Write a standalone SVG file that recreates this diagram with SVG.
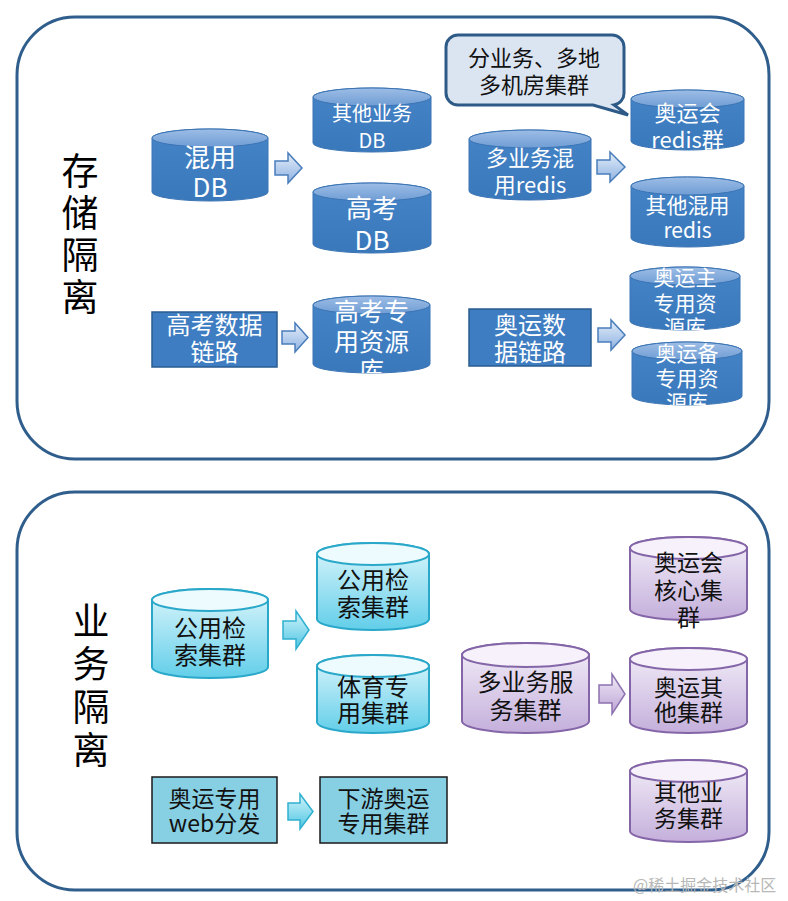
<svg xmlns="http://www.w3.org/2000/svg" width="788" height="901" viewBox="0 0 788 901">
<defs>
<linearGradient id="gBody" x1="0" y1="0" x2="0" y2="1"><stop offset="0" stop-color="#4684C8"/><stop offset="1" stop-color="#3A78BC"/></linearGradient>
<linearGradient id="gTop" x1="0" y1="0" x2="0" y2="1"><stop offset="0" stop-color="#9DBDE6"/><stop offset="1" stop-color="#6F9DD4"/></linearGradient>
<linearGradient id="gCyan" x1="0" y1="0" x2="0" y2="1"><stop offset="0" stop-color="#DDF6FC"/><stop offset="1" stop-color="#62CEE9"/></linearGradient>
<linearGradient id="gPurple" x1="0" y1="0" x2="0" y2="1"><stop offset="0" stop-color="#F4EFF9"/><stop offset="1" stop-color="#C4AFDB"/></linearGradient>
<linearGradient id="gArB" x1="0" y1="0" x2="0" y2="1"><stop offset="0" stop-color="#E3EDF9"/><stop offset="1" stop-color="#8EB2E2"/></linearGradient>
<linearGradient id="gArC" x1="0" y1="0" x2="0" y2="1"><stop offset="0" stop-color="#D2F4FB"/><stop offset="1" stop-color="#4EC5E3"/></linearGradient>
<linearGradient id="gArP" x1="0" y1="0" x2="0" y2="1"><stop offset="0" stop-color="#F1EAF7"/><stop offset="1" stop-color="#BBA3D5"/></linearGradient>
<clipPath id="c7"><rect x="313" y="296" width="117" height="77"/></clipPath>
<clipPath id="c8"><rect x="630" y="267" width="110" height="63"/></clipPath>
<clipPath id="c9"><rect x="632" y="342" width="110" height="63"/></clipPath>
</defs>
<style>
text{font-family:"Noto Sans CJK SC","Liberation Sans",sans-serif;text-anchor:middle}
.panel{fill:#fff;stroke:#2F5E8C;stroke-width:3}
.bb{fill:url(#gBody);stroke:#3B74B4;stroke-width:1}
.bt{fill:url(#gTop);stroke:#3B74B4;stroke-width:1}
.cb{fill:url(#gCyan);stroke:#2AA8CA;stroke-width:2}
.ct{fill:#EEFBFE;stroke:#2AA8CA;stroke-width:2}
.pb{fill:url(#gPurple);stroke:#8466A8;stroke-width:2}
.pt{fill:#F6F1FA;stroke:#8466A8;stroke-width:2}
.rb{fill:#3E7DC2;stroke:#2A5C90;stroke-width:1.5}
.rc{fill:#87CFE3;stroke:#1A1A1A;stroke-width:1.5}
.w{fill:#fff}
.k{fill:#111}
.title{font-size:37px;fill:#000}
.arB{fill:url(#gArB);stroke:#4A7EBB;stroke-width:1.5}
.arC{fill:url(#gArC);stroke:#2FB0D0;stroke-width:1.5}
.arP{fill:url(#gArP);stroke:#8C72AF;stroke-width:1.5}
</style>
<rect class="panel" x="17" y="17" width="752" height="442" rx="58"/>
<rect class="panel" x="17" y="492" width="752" height="398" rx="58"/>
<g id="title-storage" class="title"><text x="80" y="185">存</text><text x="80" y="227">储</text><text x="80" y="269">隔</text><text x="80" y="311">离</text></g>
<g id="title-business" class="title"><text x="91" y="635">业</text><text x="91" y="678">务</text><text x="91" y="721">隔</text><text x="91" y="764">离</text></g>
<g id="connectors">
<path class="arB" d="M275,161 H288 V153 L302,168 L288,183 V175 H275 Z"/>
<path class="arB" d="M282,331 H295 V323 L308,337.5 L295,352 V344 H282 Z"/>
<path class="arB" d="M597,160 H610 V152 L625,167 L610,182 V174 H597 Z"/>
<path class="arB" d="M598,328 H611 V320 L625,335 L611,350 V342 H598 Z"/>
<path class="arC" d="M283,621 H296 V611 L309,630 L296,649 V639 H283 Z"/>
<path class="arC" d="M288,803 H300 V794 L313,811.5 L300,829 V820 H288 Z"/>
<path class="arP" d="M599,685 H612 V674 L625,694 L612,714 V703 H599 Z"/>
</g>
<g id="n-mixdb"><path class="bb" d="M152,138 A58,9 0 0 1 268,138 V192 A58,9 0 0 1 152,192 Z"/><ellipse class="bt" cx="210" cy="138" rx="58" ry="9"/><text class="w" x="210" y="167" font-size="26">混用</text><text class="w" x="210" y="197" font-size="26">DB</text></g>
<g id="n-otherdb"><path class="bb" d="M313,97 A59,9 0 0 1 431,97 V143 A59,9 0 0 1 313,143 Z"/><ellipse class="bt" cx="372" cy="97" rx="59" ry="9"/><text class="w" x="372" y="121" font-size="20">其他业务</text><text class="w" x="372" y="148" font-size="20">DB</text></g>
<g id="n-gkdb"><path class="bb" d="M313,192 A59,9 0 0 1 431,192 V244 A59,9 0 0 1 313,244 Z"/><ellipse class="bt" cx="372" cy="192" rx="59" ry="9"/><text class="w" x="372" y="218" font-size="26">高考</text><text class="w" x="372" y="250" font-size="26">DB</text></g>
<g id="n-mixredis"><path class="bb" d="M469,139 A61,9 0 0 1 591,139 V191 A61,9 0 0 1 469,191 Z"/><ellipse class="bt" cx="530" cy="139" rx="61" ry="9"/><text class="w" x="530" y="166" font-size="22">多业务混</text><text class="w" x="530" y="193" font-size="22">用redis</text></g>
<g id="n-aoredis"><path class="bb" d="M631,99 A56.5,9 0 0 1 744,99 V141 A56.5,9 0 0 1 631,141 Z"/><ellipse class="bt" cx="687.5" cy="99" rx="56.5" ry="9"/><text class="w" x="687.5" y="121" font-size="22">奥运会</text><text class="w" x="687.5" y="148" font-size="22">redis群</text></g>
<g id="n-otherredis"><path class="bb" d="M631,186 A56.5,9 0 0 1 744,186 V238 A56.5,9 0 0 1 631,238 Z"/><ellipse class="bt" cx="687.5" cy="186" rx="56.5" ry="9"/><text class="w" x="687.5" y="213" font-size="21">其他混用</text><text class="w" x="687.5" y="238" font-size="21">redis</text></g>
<g id="n-callout"><path d="M458,35 H612 A12,12 0 0 1 624,47 V93 A12,12 0 0 1 614,105 L628,115 L593,105 H458 A12,12 0 0 1 446,93 V47 A12,12 0 0 1 458,35 Z" fill="#DBE5F1" stroke="#2E5A87" stroke-width="3"/><text class="k" x="534" y="66" font-size="22">分业务、多地</text><text class="k" x="534" y="93" font-size="22">多机房集群</text></g>
<g id="n-gklink"><rect class="rb" x="152" y="312" width="125" height="55"/><text class="w" x="214.5" y="334" font-size="24">高考数据</text><text class="w" x="214.5" y="361" font-size="24">链路</text></g>
<g id="n-gkres"><path class="bb" d="M313,305 A58.5,9 0 0 1 430,305 V364 A58.5,9 0 0 1 313,364 Z"/><ellipse class="bt" cx="371.5" cy="305" rx="58.5" ry="9"/><g clip-path="url(#c7)"><text class="w" x="371.5" y="321" font-size="25">高考专</text><text class="w" x="371.5" y="351" font-size="25">用资源</text><text class="w" x="371.5" y="380" font-size="25">库</text></g></g>
<g id="n-aolink"><rect class="rb" x="469" y="309" width="122" height="57"/><text class="w" x="530" y="334" font-size="24">奥运数</text><text class="w" x="530" y="361" font-size="24">据链路</text></g>
<g id="n-aomain"><path class="bb" d="M630,276 A55,9 0 0 1 740,276 V321 A55,9 0 0 1 630,321 Z"/><ellipse class="bt" cx="685" cy="276" rx="55" ry="9"/><g clip-path="url(#c8)"><text class="w" x="685" y="285" font-size="21">奥运主</text><text class="w" x="685" y="311" font-size="21">专用资</text><text class="w" x="685" y="335" font-size="21">源库</text></g></g>
<g id="n-aobak"><path class="bb" d="M632,351 A55,9 0 0 1 742,351 V396 A55,9 0 0 1 632,396 Z"/><ellipse class="bt" cx="687" cy="351" rx="55" ry="9"/><g clip-path="url(#c9)"><text class="w" x="687" y="361" font-size="21">奥运备</text><text class="w" x="687" y="386" font-size="21">专用资</text><text class="w" x="687" y="410" font-size="21">源库</text></g></g>
<g id="n-search-l"><path class="cb" d="M152,600 A58,11 0 0 1 268,600 V667 A58,11 0 0 1 152,667 Z"/><ellipse class="ct" cx="210" cy="600" rx="58" ry="11"/><text class="k" x="210" y="637" font-size="24">公用检</text><text class="k" x="210" y="664" font-size="24">索集群</text></g>
<g id="n-search-r"><path class="cb" d="M317,554 A56,11 0 0 1 429,554 V619 A56,11 0 0 1 317,619 Z"/><ellipse class="ct" cx="373" cy="554" rx="56" ry="11"/><text class="k" x="373" y="589" font-size="24">公用检</text><text class="k" x="373" y="616" font-size="24">索集群</text></g>
<g id="n-sports"><path class="cb" d="M317,666 A56,11 0 0 1 429,666 V722 A56,11 0 0 1 317,722 Z"/><ellipse class="ct" cx="373" cy="666" rx="56" ry="11"/><text class="k" x="373" y="696" font-size="24">体育专</text><text class="k" x="373" y="722" font-size="24">用集群</text></g>
<g id="n-web"><rect class="rc" x="152" y="777" width="125" height="66"/><text class="k" x="214.5" y="807" font-size="23">奥运专用</text><text class="k" x="214.5" y="832" font-size="23">web分发</text></g>
<g id="n-down"><rect class="rc" x="320" y="777" width="127" height="66"/><text class="k" x="383.5" y="807" font-size="23">下游奥运</text><text class="k" x="383.5" y="832" font-size="23">专用集群</text></g>
<g id="n-multisvc"><path class="pb" d="M462,655 A63.5,12 0 0 1 589,655 V721 A63.5,12 0 0 1 462,721 Z"/><ellipse class="pt" cx="525.5" cy="655" rx="63.5" ry="12"/><text class="k" x="525.5" y="691" font-size="24">多业务服</text><text class="k" x="525.5" y="719" font-size="24">务集群</text></g>
<g id="n-aocore"><path class="pb" d="M630,548 A58.5,11 0 0 1 747,548 V609 A58.5,11 0 0 1 630,609 Z"/><ellipse class="pt" cx="688.5" cy="548" rx="58.5" ry="11"/><text class="k" x="688.5" y="571" font-size="23">奥运会</text><text class="k" x="688.5" y="599" font-size="23">核心集</text><text class="k" x="688.5" y="626" font-size="23">群</text></g>
<g id="n-aoother"><path class="pb" d="M630,659 A58.5,11 0 0 1 747,659 V722 A58.5,11 0 0 1 630,722 Z"/><ellipse class="pt" cx="688.5" cy="659" rx="58.5" ry="11"/><text class="k" x="688.5" y="696" font-size="23">奥运其</text><text class="k" x="688.5" y="721" font-size="23">他集群</text></g>
<g id="n-otherbiz"><path class="pb" d="M630,771 A58.5,11 0 0 1 747,771 V831 A58.5,11 0 0 1 630,831 Z"/><ellipse class="pt" cx="688.5" cy="771" rx="58.5" ry="11"/><text class="k" x="688.5" y="801" font-size="23">其他业</text><text class="k" x="688.5" y="827" font-size="23">务集群</text></g>
<text x="633" y="891" font-size="16" fill="#B8B8B8" style="text-anchor:start">@稀土掘金技术社区</text>
</svg>
